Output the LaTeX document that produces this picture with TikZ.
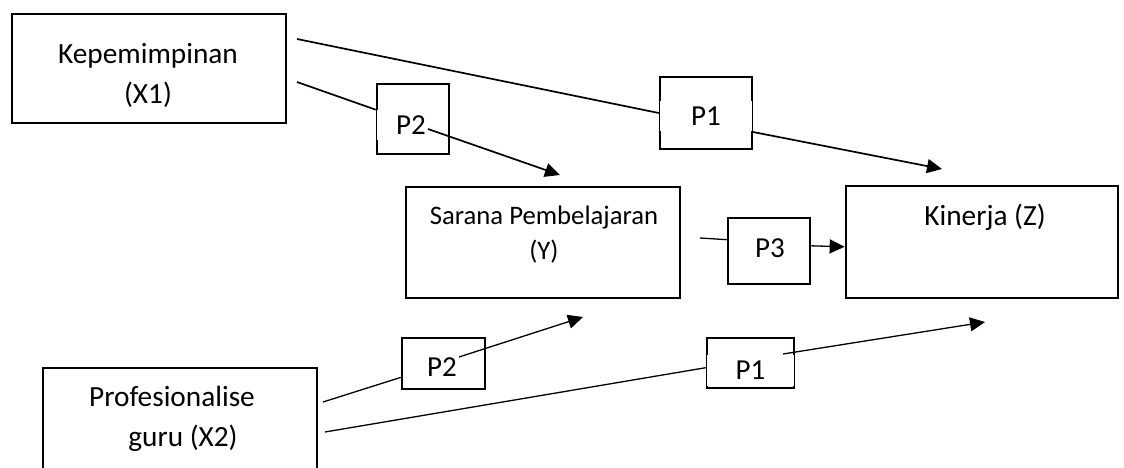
\documentclass[tikz,border=0pt]{standalone}
\usepackage{fontspec}
\setmainfont{Carlito}
\usetikzlibrary{arrows.meta}

\begin{document}
\begin{tikzpicture}[x=1pt,y=-1pt,
  varbox/.style={draw,line width=2.7pt,inner sep=0pt,minimum width=#1},
  pbox/.style={draw,line width=2.5pt,inner sep=0pt},
  lbl/.style={inner sep=0pt,align=center,font=\fontsize{29.3}{40}\selectfont},
  slbl/.style={inner sep=0pt,align=center,font=\fontsize{26.7}{35}\selectfont},
  plbl/.style={inner sep=0pt,fill=white,font=\fontsize{29}{34}\selectfont},
  link/.style={line width=1.7pt},
  thinlink/.style={line width=1.3pt},
  head/.style={-{Triangle[length=15pt,width=14pt]}}]

\useasboundingbox (0,0) rectangle (1124,468);
\clip (0,0) rectangle (1124,468);

% variable boxes
\node[varbox=274pt,minimum height=109pt] (x1) at (149,68.5) {};
\node[varbox=274pt,minimum height=111pt] (y)  at (543,242.5) {};
\node[varbox=272pt,minimum height=112pt] (z)  at (982,242) {};
\node[varbox=274pt,minimum height=112pt] (x2) at (180,424) {};

% path coefficient boxes
\node[pbox,minimum width=72pt,minimum height=70pt] (p2a) at (413,119) {};
\node[pbox,minimum width=92pt,minimum height=72pt] (p1a) at (706,113) {};
\node[pbox,minimum width=82pt,minimum height=66pt] (p3)  at (769,251) {};
\node[pbox,minimum width=83pt,minimum height=51pt] (p2b) at (443.5,363.5) {};
\node[pbox,minimum width=87pt,minimum height=50pt] (p1b) at (750.5,363) {};

% texts
\node[lbl] (x1t) at (148,75) {Kepemimpinan\\(X1)};
\node[slbl] (yt) at (544,234.5) {Sarana Pembelajaran\\(Y)};
\node[lbl] (zt) at (985,217) {Kinerja (Z)};
\node[lbl] (x2t) at (172,419) {Profesionalise\\\hspace*{22pt}guru (X2)};

\node[plbl,minimum width=68pt,minimum height=30pt] (p2at) at (411,125) {P2};
\node[plbl,minimum width=92pt,minimum height=30pt] (p1at) at (706,116) {P1};
\node[plbl,minimum width=60pt,minimum height=28pt] (p3t)  at (770,248) {P3};
\node[plbl,minimum width=78pt,minimum height=23pt] (p2bt) at (442,367) {P2};
\node[plbl,minimum width=87pt,minimum height=31pt] (p1bt) at (750.5,370) {P1};

% free ends of the connectors
\coordinate (x1a) at (297,39);
\coordinate (x1b) at (297,82);
\coordinate (p1aout) at (753,132);
\coordinate (ztop) at (942,169);
\coordinate (p2aout) at (428,129);
\coordinate (ytop) at (560,175);
\coordinate (yout) at (700,238);
\coordinate (x2a) at (323,402);
\coordinate (x2b) at (325,432);
\coordinate (p2bout) at (459,357);
\coordinate (ybot) at (583,317);
\coordinate (p1bout) at (783,354);
\coordinate (zbot) at (985,322);

% connectors
\draw[link] (x1a) -- (p1a.west);
\draw[link,head] (p1aout) -- (ztop);
\draw[link] (x1b) -- (p2a.166);
\draw[link,head] (p2aout) -- (ytop);
\draw[thinlink] (yout) -- (p3.165);
\draw[thinlink,head] (p3.7) -- (z.182);
\draw[thinlink] (x2a) -- (p2b.198);
\draw[thinlink,head] (p2bout) -- (ybot);
\draw[thinlink] (x2b) -- (p1b.186);
\draw[thinlink,head] (p1bout) -- (zbot);
\end{tikzpicture}
\end{document}
